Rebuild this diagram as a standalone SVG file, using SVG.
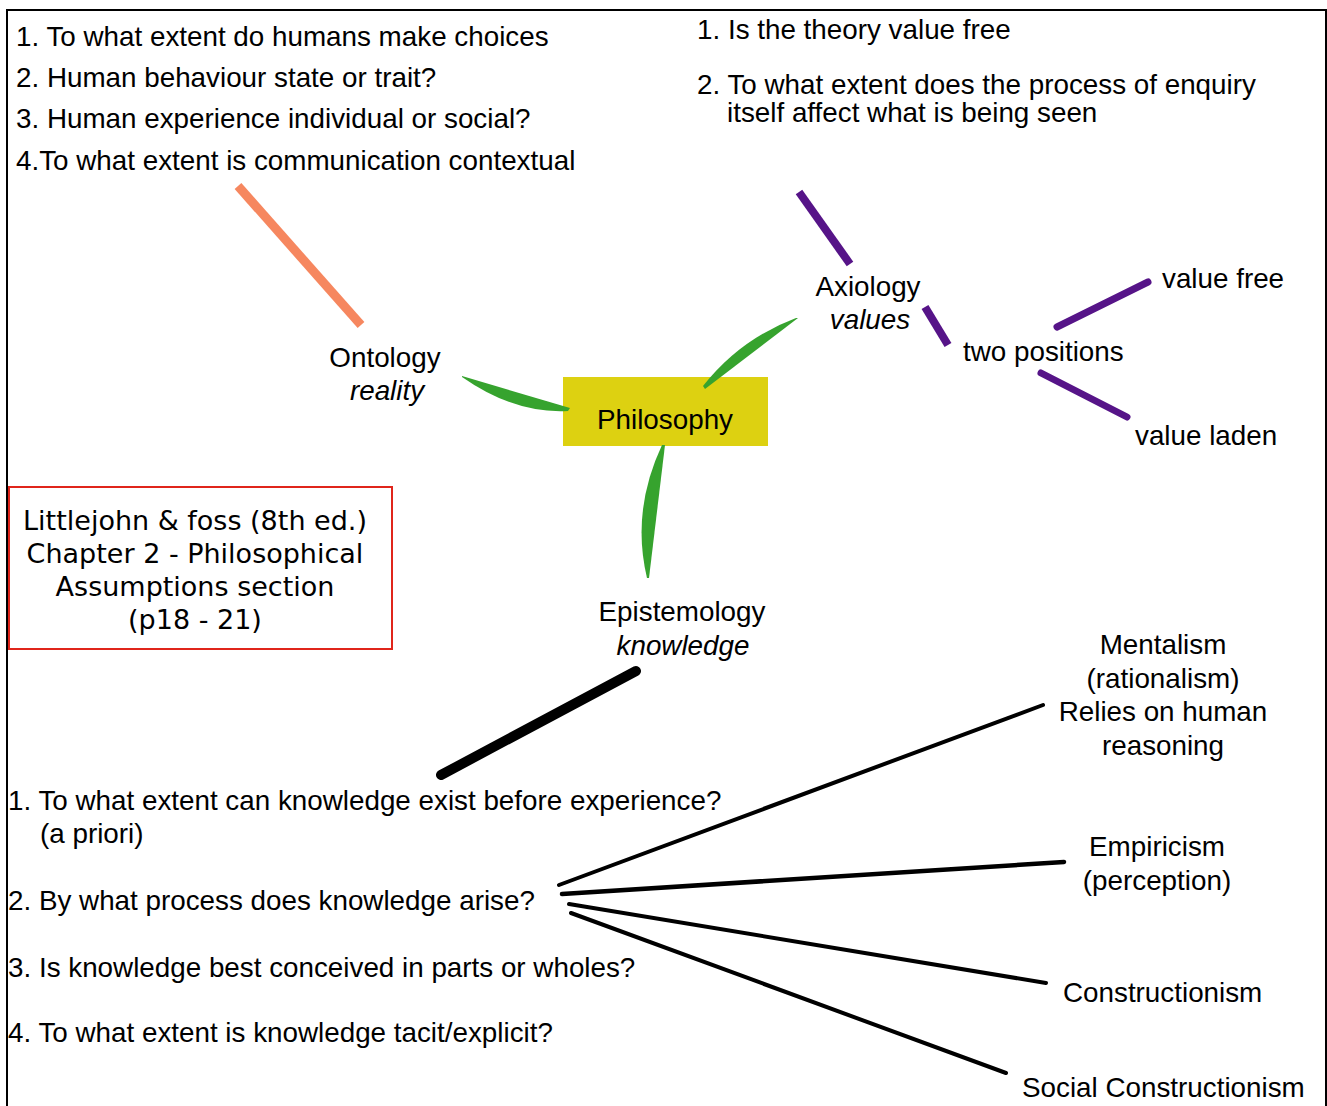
<svg xmlns="http://www.w3.org/2000/svg" width="1327" height="1106" viewBox="0 0 1327 1106">
  <style>
    text { font-family: "Liberation Sans", Arial, sans-serif; font-size: 27.8px; fill: #000; }
    .c { text-anchor: middle; }
    .i { font-style: italic; }
    .note { font-family: "DejaVu Sans", "Comic Sans MS", sans-serif; font-size: 27px; text-anchor: middle; }
    .leaf { fill: #36A32E; }
    .purple { stroke: #561488; fill: none; }
    .ink { stroke: #000; fill: none; stroke-linecap: round; }
  </style>

  <!-- page frame -->
  <path d="M7,1106 V10 H1326 V1106" fill="none" stroke="#000" stroke-width="2"/>

  <g id="ontology-questions">
    <text x="16" y="46">1. To what extent do humans make choices</text>
    <text x="16" y="87">2. Human behaviour state or trait?</text>
    <text x="16" y="128">3. Human experience individual or social?</text>
    <text x="16" y="170">4.To what extent is communication contextual</text>
  </g>

  <g id="axiology-questions">
    <text x="697" y="39">1. Is the theory value free</text>
    <text x="697" y="94">2. To what extent does the process of enquiry</text>
    <text x="727" y="122">itself affect what is being seen</text>
  </g>

  <!-- central node sits under the leaves that grow out of it -->
  <g id="philosophy">
    <rect x="563" y="377" width="205" height="69" fill="#DDD111"/>
    <text class="c" x="665" y="429">Philosophy</text>
  </g>

  <!-- connectors -->
  <g id="connectors">
    <!-- ontology question stroke -->
    <line x1="238" y1="186" x2="361" y2="325" stroke="#F6875F" stroke-width="9"/>
    <!-- axiology strokes -->
    <line class="purple" x1="799" y1="192" x2="850" y2="264" stroke-width="8"/>
    <line class="purple" x1="925" y1="307" x2="948" y2="345" stroke-width="8"/>
    <line class="purple" x1="1057" y1="327" x2="1148" y2="282" stroke-width="7" stroke-linecap="round"/>
    <line class="purple" x1="1041" y1="373" x2="1127" y2="417" stroke-width="7" stroke-linecap="round"/>
    <!-- green leaves from Philosophy -->
    <path class="leaf" d="M462,376 L570,408 L568,411 Q515,414 462,377 Z"/>
    <path class="leaf" d="M705,389 L798,318 L796,318 Q740,339 703,386 Z"/>
    <path class="leaf" d="M665,445 L649,578 L647,578 Q631,511 662,445 Z"/>
    <!-- epistemology strokes -->
    <line class="ink" x1="441" y1="775" x2="636" y2="671" stroke-width="10"/>
    <line class="ink" x1="559" y1="885" x2="1043" y2="705" stroke-width="4"/>
    <line class="ink" x1="562" y1="894" x2="1064" y2="862" stroke-width="4.5"/>
    <line class="ink" x1="569" y1="904" x2="1046" y2="983" stroke-width="4"/>
    <line class="ink" x1="571" y1="913" x2="1006" y2="1073" stroke-width="4"/>
  </g>

  <g id="ontology">
    <text class="c" x="385" y="367">Ontology</text>
    <text class="c i" x="387" y="400">reality</text>
  </g>

  <g id="axiology">
    <text class="c" x="868" y="296">Axiology</text>
    <text class="c i" x="870" y="329">values</text>
  </g>

  <g id="two-positions">
    <text x="963" y="361">two positions</text>
  </g>
  <g id="value-free">
    <text x="1162" y="288">value free</text>
  </g>
  <g id="value-laden">
    <text x="1135" y="445">value laden</text>
  </g>

  <g id="epistemology">
    <text class="c" x="682" y="621">Epistemology</text>
    <text class="c i" x="683" y="655">knowledge</text>
  </g>

  <g id="reference-note">
    <rect x="9" y="487" width="383" height="162" fill="none" stroke="#E0251B" stroke-width="2"/>
    <text class="note" x="195" y="530">Littlejohn &amp; foss (8th ed.)</text>
    <text class="note" x="195" y="563">Chapter 2 - Philosophical</text>
    <text class="note" x="195" y="596">Assumptions section</text>
    <text class="note" x="195" y="629">(p18 - 21)</text>
  </g>

  <g id="epistemology-questions">
    <text x="8" y="810">1. To what extent can knowledge exist before experience?</text>
    <text x="40" y="843">(a priori)</text>
    <text x="8" y="910">2. By what process does knowledge arise?</text>
    <text x="8" y="977">3. Is knowledge best conceived in parts or wholes?</text>
    <text x="8" y="1042">4. To what extent is knowledge tacit/explicit?</text>
  </g>

  <g id="mentalism">
    <text class="c" x="1163" y="654">Mentalism</text>
    <text class="c" x="1163" y="688">(rationalism)</text>
    <text class="c" x="1163" y="721">Relies on human</text>
    <text class="c" x="1163" y="755">reasoning</text>
  </g>
  <g id="empiricism">
    <text class="c" x="1157" y="856">Empiricism</text>
    <text class="c" x="1157" y="890">(perception)</text>
  </g>
  <g id="constructionism">
    <text x="1063" y="1002">Constructionism</text>
  </g>
  <g id="social-constructionism">
    <text x="1022" y="1097">Social Constructionism</text>
  </g>
</svg>
